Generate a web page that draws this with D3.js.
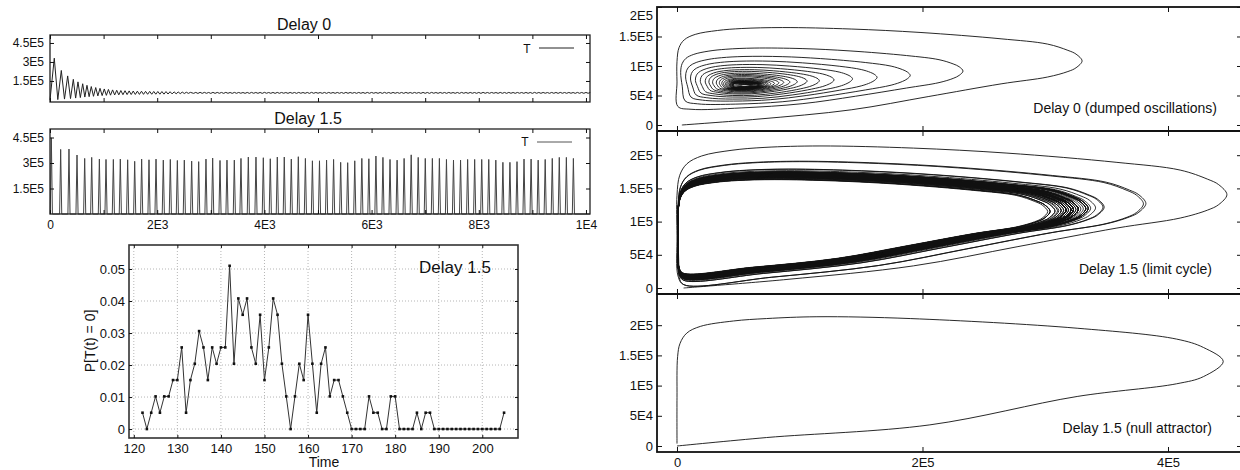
<!DOCTYPE html>
<html>
<head>
<meta charset="utf-8">
<script src="https://d3js.org/d3.v7.min.js"></script>
<style>
body { margin: 0; background: #fff; }
svg { display: block; }
</style>
</head>
<body>
<svg width="1240" height="470"></svg>
<script>
var U = 1e4; // values below are in units of 1E4

// ---- Delay 0 : one entry per oscillation cycle (T max / T min, second variable max / min)
var d0PeakTime = [80, 211, 330, 435, 522, 610, 690, 770, 853, 933, 1013, 1090, 1168, 1245, 1322, 1400, 1477, 1553, 1630, 1707, 1783, 1860, 1936, 2012, 2088, 2164,
  2240, 2316, 2392, 2468, 2544, 2620];
var d0Tmax = [33.0, 23.3, 19.0, 16.3, 14.3, 12.8, 11.6, 10.6, 9.8, 9.2, 8.7, 8.3, 7.95, 7.65, 7.45, 7.3, 7.15, 7.05, 6.95, 6.88, 6.82, 6.76, 6.72, 6.68, 6.65, 6.62,
  6.5, 6.4, 6.3, 6.2, 6.1, 6.0];
var d0Tmin = [0.0, 0.3, 0.7, 1.1, 1.5, 1.9, 2.3, 2.6, 2.9, 3.2, 3.45, 3.65, 3.8, 3.95, 4.05, 4.15, 4.25, 4.3, 4.35, 4.4, 4.45, 4.5, 4.52, 4.55, 4.57, 4.6,
  4.7, 4.8, 4.9, 5.0, 5.1, 5.2];
var d0Emax = [16.6, 13.2, 11.8, 11.0, 10.4, 9.9, 9.5, 9.2, 8.9, 8.65, 8.45, 8.25, 8.0, 7.85, 7.7, 7.6, 7.5, 7.45, 7.4, 7.36, 7.33, 7.3, 7.28, 7.26, 7.24, 7.22,
  7.15, 7.08, 7.0, 6.95, 6.9, 6.85];
var d0Emin = [0.0, 2.3, 3.1, 3.7, 4.1, 4.5, 4.8, 5.1, 5.3, 5.5, 5.65, 5.75, 5.85, 5.9, 5.95, 6.0, 6.05, 6.08, 6.1, 6.12, 6.14, 6.16, 6.18, 6.2, 6.21, 6.22,
  6.28, 6.34, 6.4, 6.45, 6.5, 6.55];
// small residual oscillation of T, sampled every 40 time units from t = 2680
var d0TailStart = 2680, d0TailStep = 40;
var d0Tail = [
  5.22,5.98,5.16,6.04,5.20,6.00,5.25,5.95,
  5.18,6.02,5.22,5.98,5.26,5.94,5.20,6.00,5.28,5.92,5.22,5.98,5.25,5.95,5.30,5.90,5.24,5.96,5.22,5.98,
  5.28,5.92,5.25,5.95,5.20,6.00,5.30,5.90,5.26,5.94,5.22,5.98,5.27,5.93,5.32,5.88,5.24,5.96,5.28,5.92,
  5.22,5.98,5.30,5.90,5.26,5.94,5.20,6.00,5.28,5.92,5.33,5.87,5.25,5.95,5.22,5.98,5.30,5.90,5.26,5.94,
  5.28,5.92,5.21,5.99,5.27,5.93,5.31,5.89,5.24,5.96,5.29,5.91,5.22,5.98,5.26,5.94,5.32,5.88,5.25,5.95,
  5.20,6.00,5.28,5.92,5.24,5.96,5.30,5.90,5.26,5.94,5.22,5.98,5.29,5.91,5.25,5.95,5.31,5.89,5.23,5.97,
  5.27,5.93,5.21,5.99,5.30,5.90,5.25,5.95,5.28,5.92,5.23,5.97,5.32,5.88,5.26,5.94,5.22,5.98,5.29,5.91,
  5.25,5.95,5.30,5.90,5.24,5.96,5.20,6.00,5.28,5.92,5.26,5.94,5.31,5.89,5.23,5.97,5.27,5.93,5.22,5.98,
  5.29,5.91,5.25,5.95,5.30,5.90,5.24,5.96,5.27,5.93,5.21,5.99,5.28,5.92,5.25,5.95,5.32,5.88,5.24,5.96,
  5.26,5.94,5.22,5.98,5.29,5.91,5.25,5.95,5.30,5.90,5.23,5.97,5.27,5.93,5.25,5.95,5.29,5.91];

// ---- Delay 1.5 : spikes of T (time of peak, peak height)
var d15PeakTime = [25, 199, 354, 504, 647, 778, 921, 1045, 1182, 1312, 1449, 1580, 1710, 1847, 1978, 2114, 2245, 2376, 2506, 2643,
  2774, 2910, 3035, 3172, 3302, 3439, 3563, 3700, 3843, 3980, 4110, 4241, 4371, 4502, 4633, 4765, 4896, 5028, 5160, 5291,
  5423, 5554, 5686, 5818, 5949, 6081, 6212, 6344, 6476, 6607, 6739, 6870, 7002, 7134, 7265, 7397, 7528, 7660, 7792, 7923,
  8055, 8186, 8318, 8450, 8581, 8713, 8844, 8976, 9108, 9239, 9371, 9502, 9634, 9765];
var d15Peak = [44.8, 38.0, 38.2, 34.7, 32.7, 33.3, 32.3, 32.1, 32.1, 32.3, 31.9, 31.0, 32.3, 31.9, 32.3, 31.7, 32.1, 31.5, 31.7, 31.1,
  30.8, 32.3, 32.9, 31.5, 31.7, 31.7, 32.7, 33.5, 33.5, 33.1, 32.5, 33.5, 33.5, 32.3, 33.7, 32.7, 31.3, 31.3, 31.7, 32.1,
  30.4, 30.2, 31.3, 32.7, 32.5, 34.1, 33.3, 32.1, 31.7, 32.7, 34.8, 33.3, 32.7, 32.7, 32.7, 32.1, 31.7, 31.7, 32.1, 32.1,
  32.1, 32.1, 31.7, 30.4, 30.4, 30.8, 32.3, 32.3, 31.7, 32.1, 32.7, 33.3, 33.3, 32.7];

// ---- Delay 1.5, null attractor trajectory (T, second variable)
var nullPath = [[0, 0], [7.3, 1.4], [20.6, 3.5], [32.6, 8.2], [40.7, 10.3], [42.9, 11.5], [44.5, 14.0],
  [42.9, 16.3], [40.7, 17.7], [32.6, 19.5], [19, 21.1], [11.4, 21.4], [7.3, 21.1], [4.6, 20.7], [1.9, 19.8], [0.8, 18.7],
  [0.25, 17], [0.05, 14.8], [0, 8], [0, 0.4]];

// ---- P[T(t) = 0]
var probTime = [122,123,124,125,126,127,128,129,130,131,132,133,134,135,136,137,138,139,140,141,142,143,144,145,146,147,148,149,150,
  151,152,153,154,155,156,157,158,159,160,161,162,163,164,165,166,167,168,169,170,171,172,173,174,175,176,177,178,179,180,
  181,182,183,184,185,186,187,188,189,190,191,192,193,194,195,196,197,198,199,200,201,202,203,204,205];
var probValue = [0.0051,0,0.0051,0.0102,0.0051,0.0102,0.0102,0.0153,0.0153,0.0255,0.0051,0.0153,0.0204,0.0306,0.0255,0.0153,0.0255,0.0204,0.0255,
  0.0255,0.051,0.0204,0.0408,0.0357,0.0408,0.0255,0.0204,0.0357,0.0153,0.0255,0.0408,0.0357,0.0204,0.0102,0,0.0102,0.0204,0.0153,0.0357,
  0.0204,0.0051,0.0204,0.0255,0.0102,0.0153,0.0153,0.0102,0.0051,0,0,0,0,0.0102,0.0051,0.0051,0,0,0.0102,0.0102,
  0,0,0,0,0.0051,0,0.0051,0.0051,0,0,0,0,0,0,0,0,0,0,0,0,0,0,0,0,0.0051];

// ---- ticks
var tsXTicks = [0, 1000, 2000, 3000, 4000, 5000, 6000, 7000, 8000, 9000, 10000];
var tsXLabels = ["0", "", "2E3", "", "4E3", "", "6E3", "", "8E3", "", "1E4"];
var tsYTicks = [150000, 300000, 450000];
var tsYLabels = ["1.5E5", "3E5", "4.5E5"];
var probXTicks = [120, 130, 140, 150, 160, 170, 180, 190, 200];
var probYTicks = [0, 0.01, 0.02, 0.03, 0.04, 0.05];
var probYLabels = ["0", "0.01", "0.02", "0.03", "0.04", "0.05"];
var phXTicks = [0, 200000, 400000];
var phXLabels = ["0", "2E5", "4E5"];
var phYTicks = [0, 50000, 100000, 150000, 200000];
var phYLabels = ["0", "5E4", "1E5", "1.5E5", "2E5"];

// shape of one oscillation loop in the phase plane, unit box (u along T, v along 2nd var):
// a boxy version (large loops) and a rounded one (small loops near the fixed point)
var loopBoxy = [[0.012, 0], [0.2, 0.06], [0.43, 0.155], [0.62, 0.29], [0.8, 0.42], [0.915, 0.49], [0.965, 0.546], [0.985, 0.584],
  [1, 0.654], [0.985, 0.724], [0.965, 0.762], [0.915, 0.826], [0.8, 0.88], [0.6, 0.945], [0.43, 0.98], [0.26, 0.995],
  [0.16, 0.985], [0.1, 0.965], [0.045, 0.925], [0.018, 0.87], [0.005, 0.79], [0, 0.65], [0, 0.35], [0.002, 0.06]];
var loopRound = [[0.1, 0.12], [0.25, 0.04], [0.43, 0.03], [0.62, 0.1], [0.8, 0.22], [0.915, 0.34], [0.965, 0.43], [0.99, 0.5],
  [1, 0.56], [0.99, 0.62], [0.965, 0.68], [0.915, 0.75], [0.8, 0.84], [0.6, 0.93], [0.43, 0.97], [0.26, 0.96],
  [0.16, 0.92], [0.1, 0.87], [0.05, 0.79], [0.02, 0.71], [0.005, 0.62], [0, 0.5], [0.02, 0.33], [0.05, 0.2]];
var leftDrop = 22; // from this template point on, the path runs down to the next loop's bottom

var font = '"Liberation Sans", Arial, Helvetica, sans-serif';
var svg = d3.select("svg");

function styleAxis(g, fs) {
  g.select(".domain").remove();
  g.selectAll(".tick line").attr("stroke", "#111");
  g.attr("font-size", fs).attr("font-family", font);
  g.selectAll(".tick text").attr("fill", "#111");
}

function boxAxes(x, y, o) {
  var xr = x.range(), yr = y.range();
  var g = svg.append("g");
  function lab(vals, labs) { return function (d) { return labs ? labs[vals.indexOf(d)] : ""; }; }
  g.append("g").attr("transform", "translate(0," + yr[0] + ")")
    .call(d3.axisBottom(x).tickValues(o.xTicks).tickSize(-o.len).tickPadding(o.xPad || 6).tickFormat(lab(o.xTicks, o.xLabels)))
    .call(styleAxis, o.fs);
  g.append("g").attr("transform", "translate(0," + yr[1] + ")")
    .call(d3.axisTop(x).tickValues(o.xTicks).tickSize(-o.len).tickFormat(function () { return ""; }))
    .call(styleAxis, o.fs);
  var left = g.append("g").attr("transform", "translate(" + xr[0] + ",0)")
    .call(d3.axisLeft(y).tickValues(o.yTicks).tickSize(-o.len).tickPadding(o.yPad || 5).tickFormat(lab(o.yTicks, o.yLabels)))
    .call(styleAxis, o.fs);
  g.append("g").attr("transform", "translate(" + xr[1] + ",0)")
    .call(d3.axisRight(y).tickValues(o.yTicks).tickSize(-o.len).tickFormat(function () { return ""; }))
    .call(styleAxis, o.fs);
  return left;
}

function frame(x, y, sw, col) {
  var xr = x.range(), yr = y.range();
  svg.append("rect")
    .attr("x", xr[0]).attr("y", yr[1])
    .attr("width", xr[1] - xr[0]).attr("height", yr[0] - yr[1])
    .attr("fill", "none").attr("stroke", col).attr("stroke-width", sw);
}

function label(txt, x, y, fs, anchor) {
  return svg.append("text").attr("x", x).attr("y", y)
    .attr("font-family", font).attr("font-size", fs)
    .attr("text-anchor", anchor || "middle").attr("fill", "#111").text(txt);
}

// ================= time series (top left) =================
var tsX = d3.scaleLinear().domain([0, 10075]).range([50, 590]);
var ts0Y = d3.scaleLinear().domain([-16000, 513000]).range([102, 35]);
var ts1Y = d3.scaleLinear().domain([0, 500000]).range([214, 129]);

var d0Series = [[0, 0]];
d0PeakTime.forEach(function (t, i) {
  if (i > 0) d0Series.push([(d0PeakTime[i - 1] + t) / 2, d0Tmin[i]]);
  d0Series.push([t, d0Tmax[i]]);
});
d0Tail.forEach(function (v, i) { d0Series.push([d0TailStart + i * d0TailStep, v]); });

var d15Series = [[0, 0]];
d15PeakTime.forEach(function (t, i) {
  d15Series.push([Math.max(0, t - 20), 0]);
  d15Series.push([t, d15Peak[i]]);
  d15Series.push([t + 20, 0]);
});
d15Series.push([10075, 0]);

svg.append("path").datum(d0Series)
  .attr("fill", "none").attr("stroke", "#222").attr("stroke-width", 1)
  .attr("d", d3.line().x(function (d) { return tsX(d[0]); }).y(function (d) { return ts0Y(d[1] * U); }));
svg.append("path").datum(d15Series)
  .attr("fill", "none").attr("stroke", "#444").attr("stroke-width", 1)
  .attr("d", d3.line().x(function (d) { return tsX(d[0]); }).y(function (d) { return ts1Y(d[1] * U); }));

frame(tsX, ts0Y, 1.3, "#222");
frame(tsX, ts1Y, 1.3, "#222");
boxAxes(tsX, ts0Y, { xTicks: tsXTicks, yTicks: tsYTicks, yLabels: tsYLabels, len: 4, fs: 12, yPad: 6 });
boxAxes(tsX, ts1Y, { xTicks: tsXTicks, xLabels: tsXLabels, yTicks: tsYTicks, yLabels: tsYLabels, len: 4, fs: 12, yPad: 6, xPad: 6.5 });

label("Delay 0", 304, 30, 16);
label("Delay 1.5", 308, 124, 16);
label("T", 527, 53, 12);
svg.append("line").attr("x1", 539).attr("x2", 574).attr("y1", 48).attr("y2", 48).attr("stroke", "#222");
label("T", 525, 146, 12);
svg.append("line").attr("x1", 537).attr("x2", 572).attr("y1", 142).attr("y2", 142).attr("stroke", "#555");

// ================= P[T(t)=0] (bottom left) =================
var pX = d3.scaleLinear().domain([118.9, 208.2]).range([129, 518]);
var pY = d3.scaleLinear().domain([-0.0028, 0.0575]).range([438, 245]);

svg.append("g").selectAll("line").data(probXTicks).enter().append("line")
  .attr("x1", pX).attr("x2", pX).attr("y1", 245).attr("y2", 438)
  .attr("stroke", "#b5b5b5").attr("stroke-dasharray", "1,2");
svg.append("g").selectAll("line").data(probYTicks).enter().append("line")
  .attr("y1", pY).attr("y2", pY).attr("x1", 129).attr("x2", 518)
  .attr("stroke", "#b5b5b5").attr("stroke-dasharray", "1,2");

var probData = probTime.map(function (t, i) { return [t, probValue[i]]; });
svg.append("path").datum(probData)
  .attr("fill", "none").attr("stroke", "#333").attr("stroke-width", 1)
  .attr("d", d3.line().x(function (d) { return pX(d[0]); }).y(function (d) { return pY(d[1]); }));
svg.append("g").selectAll("rect").data(probData).enter().append("rect")
  .attr("x", function (d) { return pX(d[0]) - 1.3; }).attr("y", function (d) { return pY(d[1]) - 1.3; })
  .attr("width", 2.6).attr("height", 2.6).attr("fill", "#111");

frame(pX, pY, 1.6, "#333");
boxAxes(pX, pY, { xTicks: probXTicks, xLabels: probXTicks.map(String), yTicks: probYTicks, yLabels: probYLabels, len: 3, fs: 13, yPad: 4, xPad: 6 });
label("Time", 324, 467, 14);
label("P[T(t) = 0]", 0, 0, 14).attr("transform", "translate(95,341) rotate(-90)");
label("Delay 1.5", 455, 273, 17);

// ================= phase portraits (right) =================
var phX = d3.scaleLinear().domain([-16293, 460285]).range([657, 1242]);
var r1Y = d3.scaleLinear().domain([-10170, 200000]).range([131, 7]);
var r2Y = d3.scaleLinear().domain([-9036, 236450]).range([294, 131]);
var r3Y = d3.scaleLinear().domain([-9934, 251656]).range([452, 294]);

function cyclePoints(xl, xr, yb, yt, round, ybNext) {
  return loopBoxy.map(function (p, j) {
    var q = loopRound[j];
    var u = p[0] + (q[0] - p[0]) * round, v = p[1] + (q[1] - p[1]) * round;
    var b = j >= leftDrop ? ybNext : yb;
    return [xl + u * (xr - xl), b + v * (yt - b)];
  });
}

var r1Pts = [];
d0Tmax.forEach(function (xr, i) {
  var round = Math.max(0, Math.min(1, 1.2 - (xr - d0Tmin[i]) / 25));
  var next = i + 1 < d0Emin.length ? d0Emin[i + 1] : d0Emin[i];
  r1Pts = r1Pts.concat(cyclePoints(d0Tmin[i], xr, d0Emin[i], d0Emax[i], round, next));
});

function r2Bottom(i) { return i === 0 ? 0 : Math.max(0.5, 1.2 + (34.7 - d15Peak[i]) * 0.24); }
var r2Pts = [];
d15Peak.forEach(function (xr, i) {
  var yt = 21.5 - (44.8 - xr) * 0.35;
  var next = i + 1 < d15Peak.length ? r2Bottom(i + 1) : r2Bottom(i);
  r2Pts = r2Pts.concat(cyclePoints(i === 0 ? 0 : 0.1, xr, r2Bottom(i), yt, 0, next));
});

function phaseLine(y) {
  return d3.line().x(function (d) { return phX(d[0] * U); }).y(function (d) { return y(d[1] * U); })
    .curve(d3.curveCatmullRom.alpha(0.5));
}
svg.append("path").datum(r1Pts).attr("fill", "none").attr("stroke", "#111").attr("stroke-width", 0.9).attr("d", phaseLine(r1Y));
svg.append("path").datum(r2Pts).attr("fill", "none").attr("stroke", "#111").attr("stroke-width", 0.9).attr("d", phaseLine(r2Y));
svg.append("path").datum(nullPath).attr("fill", "none").attr("stroke", "#111").attr("stroke-width", 0.9).attr("d", phaseLine(r3Y));

[r1Y, r2Y, r3Y].forEach(function (y, k) {
  frame(phX, y, 1.8, "#111");
  var left = boxAxes(phX, y, { xTicks: phXTicks, xLabels: k === 2 ? phXLabels : null, yTicks: phYTicks, yLabels: phYLabels, len: 5, fs: 13, yPad: 4, xPad: 6 });
  left.selectAll(".tick text").filter(function (d) { return y(d) < y.range()[1] + 6; }).attr("transform", "translate(0,8)");
});

label("Delay 0 (dumped oscillations)", 1217, 113, 14, "end");
label("Delay 1.5 (limit cycle)", 1212, 274, 14, "end");
label("Delay 1.5 (null attractor)", 1212, 433, 14, "end");
</script>
</body>
</html>
